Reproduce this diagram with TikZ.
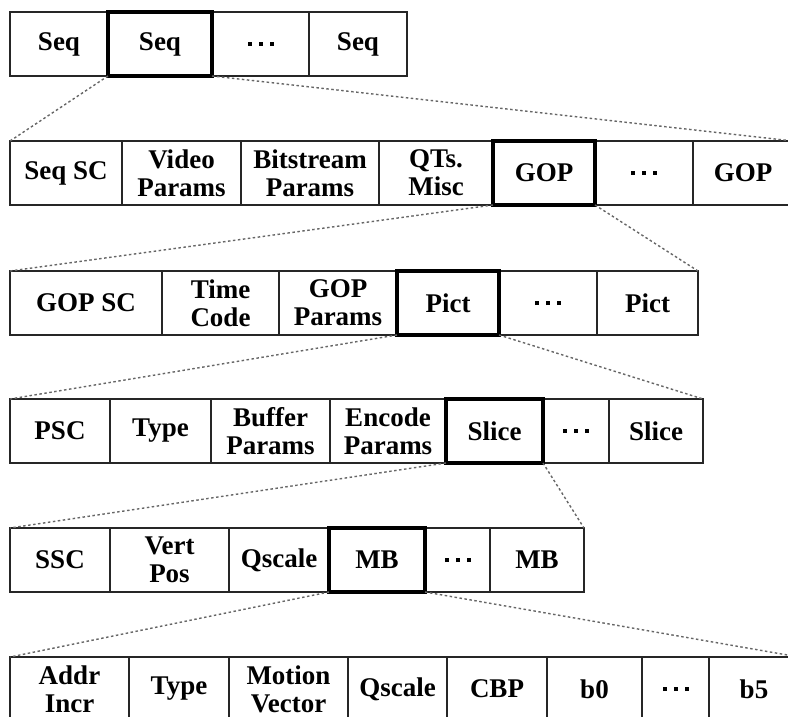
\documentclass[tikz,border=0pt]{standalone}
\usepackage{fontspec}
\setmainfont{Liberation Serif}

\newcommand{\celldots}{\rule{4pt}{4pt}\hspace{7pt}\rule{4pt}{4pt}\hspace{7pt}\rule{4pt}{4pt}}

\begin{document}
\begin{tikzpicture}[x=1pt,y=-1pt,
    cell/.style={draw=black!85,line width=1.5pt,rectangle,anchor=north west,inner sep=0pt,outer sep=0pt,minimum height=64pt,align=center,font=\fontsize{27}{28}\selectfont\bfseries},
    selcell/.style={cell,draw=black,line width=4.5pt},
    zoomline/.style={black!60,line width=1.4pt,dash pattern=on 2.5pt off 2.5pt}]
        \clip (0,0) rectangle (788,717);
        \fill[white] (0,0) rectangle (788,717);

        \node[cell,minimum width=98pt] (q1) at (10,12) {Seq};
        \node[cell,minimum width=97pt] (q3) at (212,12) {\celldots};
        \node[cell,minimum width=98pt] (q4) at (309,12) {Seq};
        \node[selcell,minimum width=104pt] (q2) at (108,12) {Seq};

        \node[cell,minimum width=112pt] (g1) at (10,141) {Seq SC};
        \node[cell,minimum width=119pt] (g2) at (122,141) {Video\\Params};
        \node[cell,minimum width=138pt] (g3) at (241,141) {Bitstream\\Params};
        \node[cell,minimum width=114pt] (g4) at (379,141) {QTs.\\Misc};
        \node[cell,minimum width=98pt] (g6) at (595,141) {\celldots};
        \node[cell,minimum width=100pt] (g7) at (693,141) {GOP};
        \node[selcell,minimum width=102pt] (g5) at (493,141) {GOP};

        \node[cell,minimum width=152pt] (p1) at (10,271) {GOP SC};
        \node[cell,minimum width=117pt] (p2) at (162,271) {Time\\Code};
        \node[cell,minimum width=118pt] (p3) at (279,271) {GOP\\Params};
        \node[cell,minimum width=98pt] (p5) at (499,271) {\celldots};
        \node[cell,minimum width=101pt] (p6) at (597,271) {Pict};
        \node[selcell,minimum width=102pt] (p4) at (397,271) {Pict};

        \node[cell,minimum width=100pt] (s1) at (10,399) {PSC};
        \node[cell,minimum width=101pt] (s2) at (110,399) {Type};
        \node[cell,minimum width=119pt] (s3) at (211,399) {Buffer\\Params};
        \node[cell,minimum width=116pt] (s4) at (330,399) {Encode\\Params};
        \node[cell,minimum width=66pt] (s6) at (543,399) {\celldots};
        \node[cell,minimum width=94pt] (s7) at (609,399) {Slice};
        \node[selcell,minimum width=97pt] (s5) at (446,399) {Slice};

        \node[cell,minimum width=100pt] (m1) at (10,528) {SSC};
        \node[cell,minimum width=119pt] (m2) at (110,528) {Vert\\Pos};
        \node[cell,minimum width=100pt] (m3) at (229,528) {Qscale};
        \node[cell,minimum width=65pt] (m5) at (425,528) {\celldots};
        \node[cell,minimum width=94pt] (m6) at (490,528) {MB};
        \node[selcell,minimum width=96pt] (m4) at (329,528) {MB};

        \node[cell,minimum width=119pt] (b1) at (10,657) {Addr\\Incr};
        \node[cell,minimum width=100pt] (b2) at (129,657) {Type};
        \node[cell,minimum width=119pt] (b3) at (229,657) {Motion\\Vector};
        \node[cell,minimum width=99pt] (b4) at (348,657) {Qscale};
        \node[cell,minimum width=100pt] (b5) at (447,657) {CBP};
        \node[cell,minimum width=95pt] (b6) at (547,657) {b0};
        \node[cell,minimum width=67pt] (b7) at (642,657) {\celldots};
        \node[cell,minimum width=90pt] (b8) at (709,657) {b5};

        \draw[zoomline] (q2.south west) -- (g1.north west);
        \draw[zoomline] (q2.south east) -- (g7.north east);
        \draw[zoomline] (g5.south west) -- (p1.north west);
        \draw[zoomline] (g5.south east) -- (p6.north east);
        \draw[zoomline] (p4.south west) -- (s1.north west);
        \draw[zoomline] (p4.south east) -- (s7.north east);
        \draw[zoomline] (s5.south west) -- (m1.north west);
        \draw[zoomline] (s5.south east) -- (m6.north east);
        \draw[zoomline] (m4.south west) -- (b1.north west);
        \draw[zoomline] (m4.south east) -- (b8.north east);
\end{tikzpicture}
\end{document}
